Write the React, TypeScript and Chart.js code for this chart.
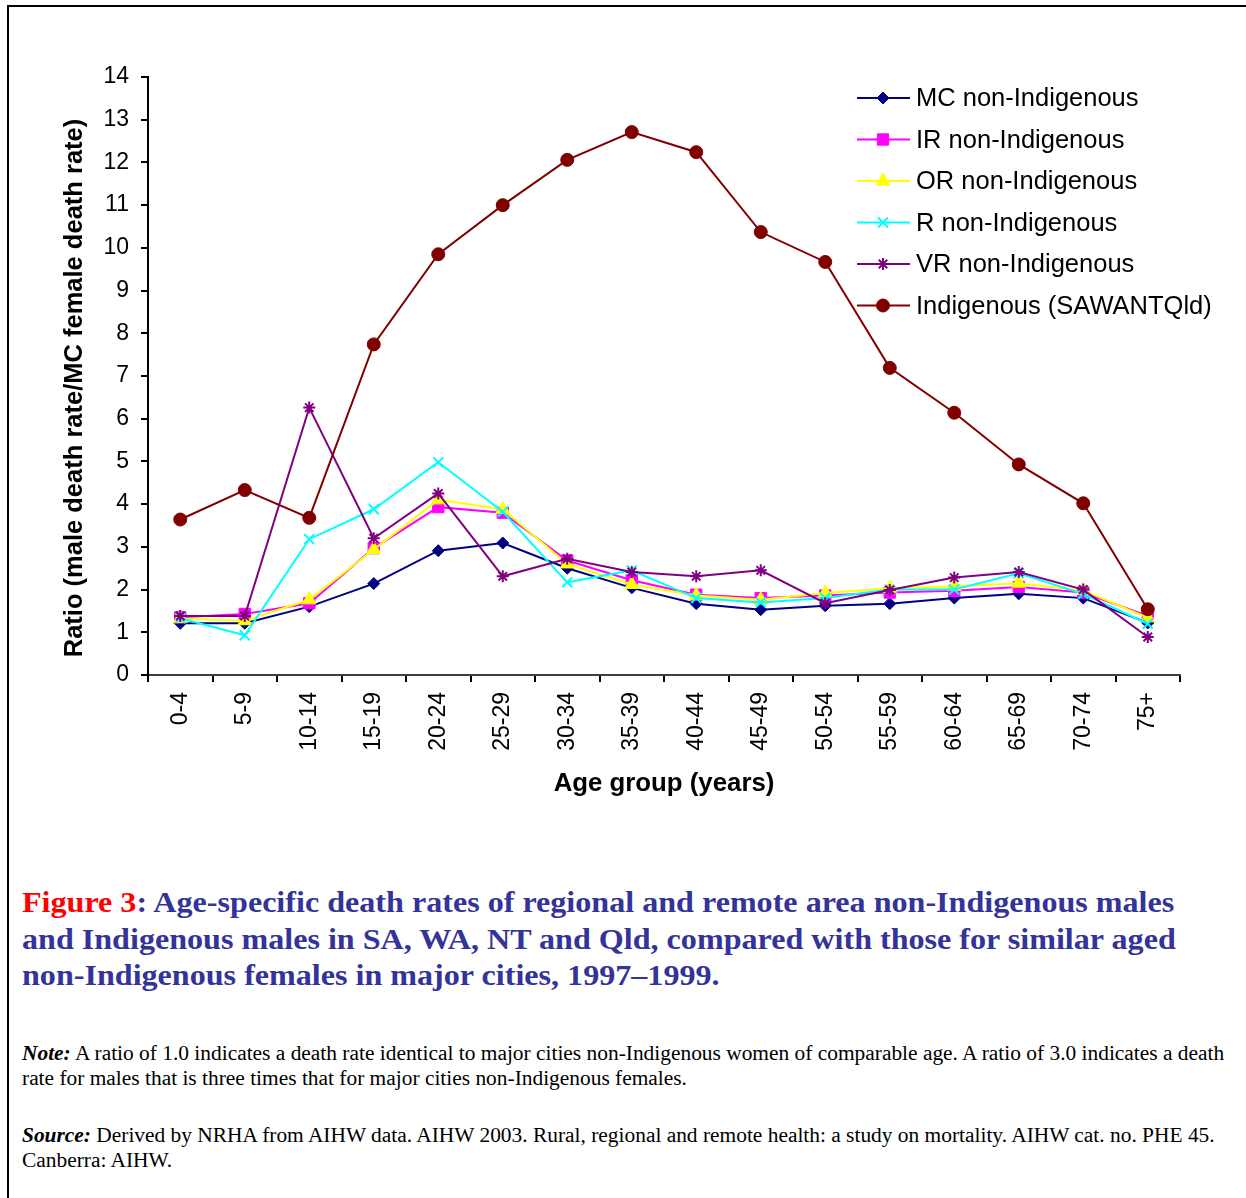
import React, { useEffect, useRef } from "react";
import { Chart, registerables } from "chart.js";
import { drawPoint } from "chart.js/helpers";

Chart.register(...registerables);

const categories = ["0-4", "5-9", "10-14", "15-19", "20-24", "25-29", "30-34", "35-39", "40-44", "45-49", "50-54", "55-59", "60-64", "65-69", "70-74", "75+"];

const mcNonIndigenous = [1.21, 1.21, 1.6, 2.14, 2.91, 3.09, 2.5, 2.04, 1.67, 1.53, 1.62, 1.67, 1.8, 1.9, 1.8, 1.22];
const irNonIndigenous = [1.35, 1.43, 1.68, 2.97, 3.93, 3.8, 2.68, 2.22, 1.88, 1.8, 1.86, 1.93, 1.97, 2.06, 1.93, 1.38];
const orNonIndigenous = [1.32, 1.27, 1.76, 2.94, 4.1, 3.88, 2.6, 2.12, 1.86, 1.76, 1.92, 2.03, 2.08, 2.15, 1.98, 1.34];
const rNonIndigenous = [1.33, 0.93, 3.18, 3.88, 4.98, 3.82, 2.17, 2.45, 1.8, 1.7, 1.8, 2.0, 2.0, 2.38, 1.9, 1.2];
const vrNonIndigenous = [1.38, 1.38, 6.26, 3.2, 4.25, 2.31, 2.72, 2.41, 2.31, 2.45, 1.68, 1.99, 2.28, 2.41, 2.0, 0.89];
const indigenous = [3.64, 4.33, 3.68, 7.74, 9.85, 11.0, 12.06, 12.71, 12.24, 10.37, 9.67, 7.19, 6.14, 4.93, 4.02, 1.54];

const seriesLabels = [
  "MC non-Indigenous",
  "IR non-Indigenous",
  "OR non-Indigenous",
  "R non-Indigenous",
  "VR non-Indigenous",
  "Indigenous (SAWANTQld)",
];

const yAxisTitle = "Ratio (male death rate/MC female death rate)";
const xAxisTitle = "Age group (years)";

const yTickMin = 0;
const yTickMax = 14;
const yTickStep = 1;

const FONT = "Arial, 'Liberation Sans', sans-serif";

const legendPlugin = {
  id: "insideLegend",
  afterDraw(chart: any) {
    const ctx = chart.ctx;
    const x0 = 857;
    const top = 98;
    const gap = 41.5;
    chart.data.datasets.forEach((ds: any, i: number) => {
      const y = top + i * gap;
      ctx.save();
      ctx.strokeStyle = ds.borderColor;
      ctx.lineWidth = 2;
      ctx.beginPath();
      ctx.moveTo(x0, y);
      ctx.lineTo(x0 + 53, y);
      ctx.stroke();
      ctx.fillStyle = ds.pointBackgroundColor;
      ctx.strokeStyle = ds.pointBorderColor;
      ctx.lineWidth = ds.pointBorderWidth;
      drawPoint(ctx, { pointStyle: ds.pointStyle, radius: ds.pointRadius, borderWidth: ds.pointBorderWidth, rotation: 0 }, x0 + 26, y);
      ctx.fillStyle = "#000";
      ctx.font = `25.5px ${FONT}`;
      ctx.textBaseline = "middle";
      ctx.textAlign = "left";
      ctx.fillText(ds.label, x0 + 59, y + 1);
      ctx.restore();
    });
  },
};

const yTitlePlugin = {
  id: "yTitle",
  afterDraw(chart: any) {
    const ctx = chart.ctx;
    ctx.save();
    ctx.translate(75, 388);
    ctx.rotate(-Math.PI / 2);
    ctx.fillStyle = "#000";
    ctx.font = `bold 25.5px ${FONT}`;
    ctx.textAlign = "center";
    ctx.textBaseline = "middle";
    ctx.fillText(yAxisTitle, 0, 0);
    ctx.restore();
  },
};

export default function App() {
  const canvasRef = useRef<HTMLCanvasElement | null>(null);

  useEffect(() => {
    if (!canvasRef.current) return;
    const mk = (label: string, data: number[], color: string, style: string, radius: number, bw: number, order: number) => ({
      label,
      data,
      borderColor: color,
      backgroundColor: color,
      pointBackgroundColor: color,
      pointBorderColor: color,
      pointStyle: style,
      pointRadius: radius,
      pointBorderWidth: bw,
      borderWidth: 2,
      tension: 0,
      order,
    });
    const chart = new Chart(canvasRef.current, {
      type: "line",
      data: {
        labels: categories,
        datasets: [
          mk(seriesLabels[0], mcNonIndigenous, "#000080", "rectRot", 6, 1, 6),
          mk(seriesLabels[1], irNonIndigenous, "#FF00FF", "rect", 8, 1, 5),
          mk(seriesLabels[2], orNonIndigenous, "#FFFF00", "triangle", 8, 1, 4),
          mk(seriesLabels[3], rNonIndigenous, "#00FFFF", "crossRot", 7, 2, 3),
          mk(seriesLabels[4], vrNonIndigenous, "#800080", "star", 6, 2, 2),
          mk(seriesLabels[5], indigenous, "#800000", "circle", 6.5, 1, 1),
        ] as any,
      },
      options: {
        responsive: false,
        animation: false,
        devicePixelRatio: 1,
        layout: { padding: { left: 0, top: 77, right: 66, bottom: 0 } },
        plugins: { legend: { display: false }, tooltip: { enabled: false } },
        scales: {
          x: {
            type: "category",
            offset: true,
            grid: { offset: true, drawOnChartArea: false, drawTicks: true, tickLength: 7, color: "#000", lineWidth: 2 },
            border: { display: true, color: "#404040", width: 2 },
            ticks: { minRotation: 90, maxRotation: 90, padding: 10, color: "#000", font: { family: FONT, size: 23 } },
            title: { display: true, text: xAxisTitle, color: "#000", font: { family: FONT, size: 25.8, weight: "bold" }, padding: { top: 0, bottom: 31 } },
            afterFit: (scale: any) => { scale.height = 155; },
          },
          y: {
            min: yTickMin,
            max: yTickMax,
            ticks: { stepSize: yTickStep, padding: 12, color: "#000", font: { family: FONT, size: 23 } },
            grid: { drawOnChartArea: false, drawTicks: true, tickLength: 7, color: "#000", lineWidth: 2 },
            border: { display: true, color: "#000", width: 2 },
            title: { display: false },
            afterFit: (scale: any) => { scale.width = 148; },
          },
        },
      } as any,
      plugins: [legendPlugin, yTitlePlugin],
    });
    return () => chart.destroy();
  }, []);

  const serif = "'Times New Roman', 'Liberation Serif', serif";

  return (
    <div style={{ position: "fixed", left: 0, top: 0, width: 1246, height: 1198, background: "#fff", overflow: "hidden" }}>
      <div style={{ position: "absolute", left: 7, top: 5, width: 2, height: 1200, background: "#000" }} />
      <div style={{ position: "absolute", left: 7, top: 5, width: 1250, height: 2, background: "#000" }} />
      <canvas ref={canvasRef} width={1246} height={830} style={{ position: "absolute", left: 0, top: 0, width: 1246, height: 830 }} />
      <div style={{ position: "absolute", left: 22, top: 884, fontFamily: serif, fontWeight: "bold", fontSize: 30, lineHeight: "36.5px", color: "#333399", whiteSpace: "nowrap", transform: "scaleX(1.07)", transformOrigin: "0 0" }}>
        <span style={{ color: "#FF0000" }}>Figure 3</span>: Age-specific death rates of regional and remote area non-Indigenous males<br />
        and Indigenous males in SA, WA, NT and Qld, compared with those for similar aged<br />
        non-Indigenous females in major cities, 1997–1999.
      </div>
      <div style={{ position: "absolute", left: 22, top: 1041, fontFamily: serif, fontSize: 20, lineHeight: "25px", color: "#000", whiteSpace: "nowrap", transform: "scaleX(1.07)", transformOrigin: "0 0" }}>
        <b><i>Note:</i></b> A ratio of 1.0 indicates a death rate identical to major cities non-Indigenous women of comparable age. A ratio of 3.0 indicates a death<br />
        rate for males that is three times that for major cities non-Indigenous females.
      </div>
      <div style={{ position: "absolute", left: 22, top: 1123, fontFamily: serif, fontSize: 20, lineHeight: "25px", color: "#000", whiteSpace: "nowrap", transform: "scaleX(1.07)", transformOrigin: "0 0" }}>
        <b><i>Source:</i></b> Derived by NRHA from AIHW data. AIHW 2003. Rural, regional and remote health: a study on mortality. AIHW cat. no. PHE 45.<br />
        Canberra: AIHW.
      </div>
    </div>
  );
}
